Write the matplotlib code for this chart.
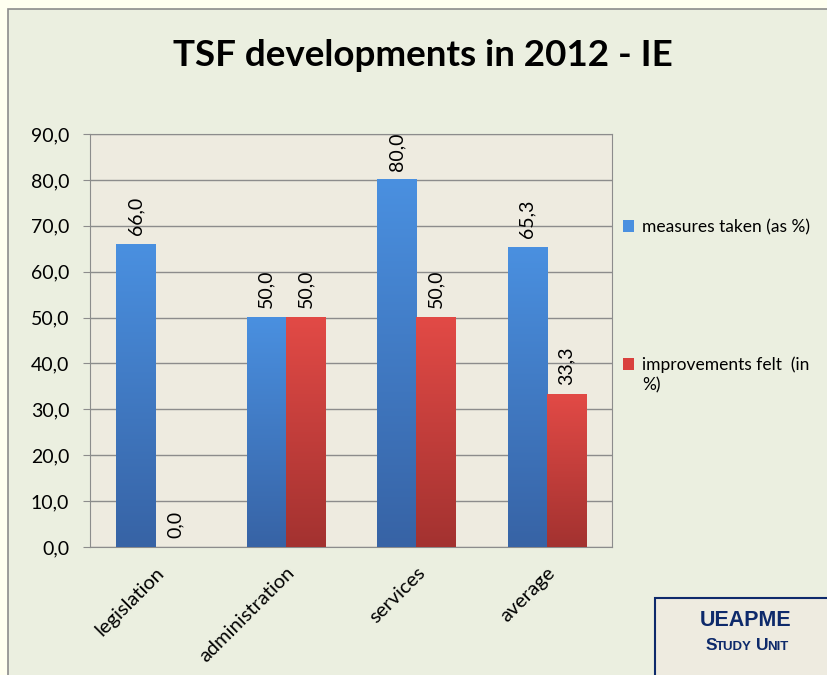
import numpy as np
import matplotlib.pyplot as plt
from matplotlib.patches import Rectangle
from matplotlib.colors import LinearSegmentedColormap
from matplotlib.offsetbox import TextArea, HPacker, AnchoredOffsetbox

categories = ['legislation', 'administration', 'services', 'average']
measures = [66.0, 50.0, 80.0, 65.3]
improvements = [0.0, 50.0, 50.0, 33.3]
series_names = ['measures taken (as %)', 'improvements felt  (in']
name_tail = '%)'
yticks = [0, 10, 20, 30, 40, 50, 60, 70, 80, 90]

plt.rcParams['font.family'] = ['Lato', 'DejaVu Sans']

fig = plt.figure(figsize=(8.27, 6.75), dpi=100)
fig.patch.set_facecolor('#FFFFF0')

# chart panel
fig.patches.append(Rectangle((8/827, -0.01), 1.0, 1 - 9/675 + 0.01, transform=fig.transFigure,
                             facecolor='#EBEFE0', edgecolor='#8C8C8C', lw=1.2, zorder=-5))

ax = fig.add_axes([90/827, 1 - 547/675, (612 - 90)/827, (547 - 134)/675])
ax.set_facecolor('#EEEBE0')

blue_cm = LinearSegmentedColormap.from_list('b', ['#3763A5', '#4A90E0'])
red_cm = LinearSegmentedColormap.from_list('r', ['#A33230', '#E24A46'])

x = np.arange(len(categories))
w = 0.3
grad = np.linspace(0, 1, 256).reshape(-1, 1)

def grad_bars(xpos, vals, cmap, color):
    bars = ax.bar(xpos, vals, w, color=color, zorder=2)
    for b in bars:
        if b.get_height() <= 0:
            continue
        ax.imshow(grad, cmap=cmap, aspect='auto', origin='lower',
                  extent=[b.get_x(), b.get_x() + b.get_width(), 0, b.get_height()],
                  zorder=3)
    return bars

b1 = grad_bars(x - w/2, measures, blue_cm, '#4A90E0')
b2 = grad_bars(x + w/2, improvements, red_cm, '#D9413E')

for xs, vals in [(x - w/2, measures), (x + w/2, improvements)]:
    for xi, v in zip(xs, vals):
        ax.text(xi, v + 2.0, ('%.1f' % v).replace('.', ','), rotation=90,
                ha='center', va='bottom', fontsize=14, color='black', zorder=4)

ax.set_xlim(-0.5, len(categories) - 0.5)
ax.set_ylim(0, 90)
ax.set_yticks(yticks)
ax.set_yticklabels([('%.1f' % t).replace('.', ',') for t in yticks], fontsize=14)
ax.yaxis.grid(True, color='#8C8C8C', lw=1.0, zorder=1)
ax.set_axisbelow(True)
ax.set_xticks(x)
ax.set_xticklabels(categories, rotation=45, ha='right', rotation_mode='anchor', fontsize=14.5)
ax.tick_params(axis='x', length=0, pad=12)
ax.tick_params(axis='y', length=5, color='#8C8C8C', pad=10)
for s in ax.spines.values():
    s.set_color('#8C8C8C')

fig.text(423/827, 1 - 55/675, 'TSF developments in 2012 - IE', ha='center', va='center',
         fontsize=26.5, fontweight='bold')

leg = ax.legend([b1, b2], series_names, loc='upper left',
                bbox_to_anchor=(623/827, 1 - 219/675), bbox_transform=fig.transFigure,
                frameon=False, fontsize=12.5, handlelength=0.65, handleheight=0.65,
                handletextpad=0.45, labelspacing=7.0, borderpad=0, borderaxespad=0)

# second line of the red legend label
fig.canvas.draw()
t2 = leg.get_texts()[1].get_window_extent()
fig.text(t2.x0 / fig.bbox.width, (t2.y0 - 4) / fig.bbox.height, name_tail,
         ha='left', va='top', fontsize=12.5)

# UEAPME box
navy = '#0E2A6B'
fig.patches.append(Rectangle((655/827, -0.01), 0.3, 1 - 598/675 + 0.01, transform=fig.transFigure,
                             facecolor='#EEEBE0', edgecolor=navy, lw=1.5, zorder=5))
fig.text(746/827, 1 - 621/675, 'UEAPME', ha='center', va='center', fontsize=15.5,
         fontweight='bold', color=navy, family=['Liberation Sans'], zorder=6)

def part(s, size):
    return TextArea(s, textprops=dict(fontsize=size, fontweight='bold', color=navy,
                                      family=['Liberation Sans']))

w1 = HPacker(children=[part('S', 12.5), part('TUDY', 9.5)], align='baseline', pad=0, sep=-1)
w2 = HPacker(children=[part('U', 12.5), part('NIT', 9.5)], align='baseline', pad=0, sep=-1)
pack = HPacker(children=[w1, w2], align='baseline', pad=0, sep=3)
ab = AnchoredOffsetbox(loc='center', child=pack, frameon=False, pad=0, borderpad=0,
                       bbox_to_anchor=(747/827, 1 - 645/675), bbox_transform=fig.transFigure)
ab.set_zorder(6)
fig.add_artist(ab)

fig.savefig('out.png', dpi=100, facecolor=fig.get_facecolor())
